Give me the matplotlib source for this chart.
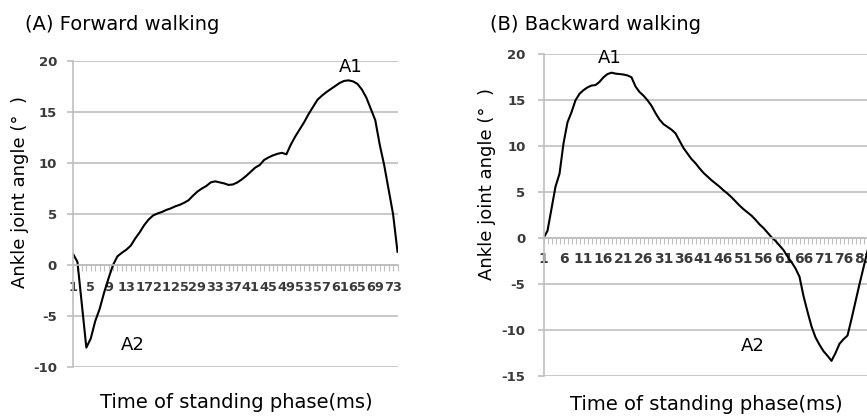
import matplotlib
matplotlib.use("Agg")
import matplotlib.pyplot as plt
import numpy as np

plt.rcParams['font.family'] = ['DejaVu Sans']

# ---- data ----
forward_angle = [1.1, 0.3, -3.9, -8.1, -7.2, -5.5, -4.3, -2.7, -1.3, 0.0,
                 0.85, 1.2, 1.5, 1.9, 2.6, 3.2, 3.9, 4.45, 4.85, 5.05,
                 5.2, 5.4, 5.55, 5.75, 5.9, 6.1, 6.35, 6.8, 7.2, 7.5,
                 7.75, 8.1, 8.2, 8.1, 8.0, 7.85, 7.9, 8.1, 8.4, 8.75,
                 9.15, 9.55, 9.8, 10.3, 10.55, 10.75, 10.9, 11.0, 10.85, 11.8,
                 12.6, 13.3, 14.0, 14.8, 15.5, 16.2, 16.6, 16.95, 17.25, 17.55,
                 17.85, 18.05, 18.1, 18.0, 17.75, 17.2, 16.4, 15.3, 14.2, 11.8,
                 9.8, 7.4, 5.0, 1.3]

backward_angle = [0.0, 0.8, 3.2, 5.6, 7.0, 10.3, 12.6, 13.7, 15.0, 15.7,
                  16.1, 16.4, 16.6, 16.65, 17.0, 17.5, 17.85, 18.0, 17.9, 17.85,
                  17.8, 17.7, 17.5, 16.5, 15.9, 15.5, 15.0, 14.4, 13.6, 12.9,
                  12.4, 12.1, 11.8, 11.4, 10.6, 9.8, 9.2, 8.6, 8.15, 7.6,
                  7.1, 6.7, 6.3, 5.95, 5.6, 5.2, 4.85, 4.45, 4.0, 3.55,
                  3.15, 2.8, 2.45, 2.0, 1.5, 1.1, 0.6, 0.1, -0.3, -0.8,
                  -1.3, -2.0, -2.6, -3.3, -4.2, -6.3, -8.0, -9.6, -10.8, -11.6,
                  -12.3, -12.8, -13.35, -12.5, -11.5, -11.0, -10.6, -8.8, -6.9, -5.0,
                  -3.2, -1.4, 0.3, 1.8]

forward_categories = list(range(1, len(forward_angle) + 1))
backward_categories = list(range(1, len(backward_angle) + 1))

forward_yticks = [-10, -5, 0, 5, 10, 15, 20]
backward_yticks = [-15, -10, -5, 0, 5, 10, 15, 20]
forward_label_step = 4
backward_label_step = 5

W, H = 867, 416
fig = plt.figure(figsize=(W / 100, H / 100), dpi=100)

GRID = '#bfbfbf'
TXT = '#3a3a3a'


def px_axes(l, t, r, b):
    return fig.add_axes([l / W, 1 - b / H, (r - l) / W, (b - t) / H])


def style(ax, cats, vals, yticks, step, xpad, ypad, xfs):
    ax.plot(cats, vals, color='black', lw=1.5, solid_joinstyle='round')
    ax.set_xlim(cats[0], cats[-1])
    ax.set_ylim(yticks[0], yticks[-1])
    ax.set_yticks(yticks)
    ax.set_yticklabels([str(v) for v in yticks], fontsize=9.5,
                       color=TXT, fontweight='bold')
    ax.yaxis.grid(True, color=GRID, lw=1.2)
    ax.set_axisbelow(True)
    for s in ['top', 'right']:
        ax.spines[s].set_visible(False)
    ax.spines['left'].set_color(GRID)
    ax.spines['left'].set_linewidth(1.2)
    ax.spines['bottom'].set_position(('data', 0))
    ax.spines['bottom'].set_color(GRID)
    ax.spines['bottom'].set_linewidth(1.2)
    ax.set_xticks(cats)
    ax.set_xticklabels([str(c) if (c - 1) % step == 0 else '' for c in cats],
                       fontsize=xfs, color=TXT, fontweight='bold')
    ax.tick_params(axis='x', length=4, width=0.8, color=GRID, pad=xpad)
    ax.tick_params(axis='y', length=4, width=1.2, color=GRID, pad=ypad)
    ax.set_facecolor('none')


axA = px_axes(73, 61, 397.5, 367)
style(axA, forward_categories, forward_angle, forward_yticks,
      forward_label_step, 7.5, 7.5, 9.3)
axA.text(63.5, 19.4, 'A1', fontsize=13, ha='center', va='center', color='black')
axA.text(14.5, -7.8, 'A2', fontsize=13, ha='center', va='center', color='black')

axB = px_axes(543.5, 54.3, 543.5 + 83 * 4, 376)
style(axB, backward_categories, backward_angle, backward_yticks,
      backward_label_step, 6, 9, 10)
axB.text(17.6, 19.6, 'A1', fontsize=13, ha='center', va='center', color='black')
axB.text(53.4, -11.7, 'A2', fontsize=13, ha='center', va='center', color='black')

fig.text(25 / W, 1 - 24 / H, '(A) Forward walking', fontsize=14,
         ha='left', va='center', color='black')
fig.text(490 / W, 1 - 25 / H, '(B) Backward walking', fontsize=14,
         ha='left', va='center', color='black')
fig.text(20 / W, 1 - 192 / H, 'Ankle joint angle (°  )', fontsize=13,
         rotation=90, ha='center', va='center', color='black')
fig.text(487 / W, 1 - 184 / H, 'Ankle joint angle (°  )', fontsize=13,
         rotation=90, ha='center', va='center', color='black')
fig.text(236 / W, 1 - 403 / H, 'Time of standing phase(ms)', fontsize=14,
         ha='center', va='center', color='black')
fig.text(706 / W, 1 - 405 / H, 'Time of standing phase(ms)', fontsize=14,
         ha='center', va='center', color='black')

fig.savefig('out.png', dpi=100)
